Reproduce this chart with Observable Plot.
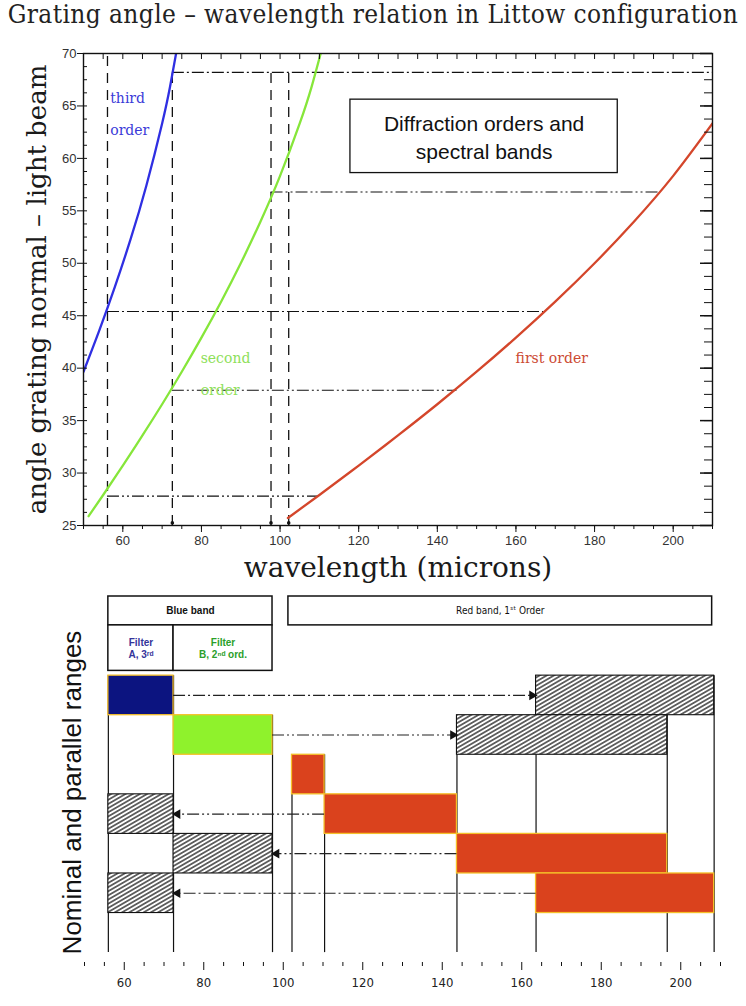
<!DOCTYPE html>
<html><head><meta charset="utf-8">
<script src="https://cdn.jsdelivr.net/npm/d3@7"></script>
<script src="https://cdn.jsdelivr.net/npm/@observablehq/plot@0.6"></script>
<style>
html,body{margin:0;padding:0;background:#fff}
body{width:746px;height:1006px;position:relative;overflow:hidden}
#title{position:absolute;left:0;top:0;width:746px;text-align:center;font-family:"DejaVu Serif Condensed","DejaVu Serif",serif;font-size:26px;letter-spacing:0.4px;color:#222;line-height:28px;white-space:nowrap}
#top{position:absolute;left:0;top:30px}
#bottom{position:absolute;left:0;top:590px}
</style></head><body>
<div id="title">Grating angle – wavelength relation in Littow configuration</div>
<div id="top"></div>
<div id="bottom"></div>
<script>
// ---------------- top chart data ----------------
const wavelengthTicks = [60, 80, 100, 120, 140, 160, 180, 200];
const angleTicks = [25, 30, 35, 40, 45, 50, 55, 60, 65, 70];

const thirdWl  = [50, 54, 58, 62, 66, 70, 72, 73.6];
const thirdAng = [39.66, 43.58, 47.77, 52.32, 57.42, 63.33, 66.80, 70.1];
const secondWl  = [51.3, 55, 60, 65, 70, 75, 80, 85, 90, 95, 100, 105, 108, 110.4];
const secondAng = [25.89, 27.91, 30.71, 33.59, 36.56, 39.66, 42.91, 46.34, 50.0, 53.96, 58.33, 63.33, 66.8, 70.1];
const firstWl  = [102, 110, 120, 130, 140, 150, 160, 170, 180, 190, 200, 210];
const firstAng = [25.72, 27.91, 30.71, 33.59, 36.56, 39.66, 42.91, 46.34, 50.0, 53.96, 58.33, 63.33];

const cutoffWl = [56.1, 72.6, 97.7, 102.2];
const cutoffTopAngle = [70, 68.6, 68.6, 68.6];
const footMarkWl = [72.6, 97.7, 102.2];

const projAngle = [68.2, 56.8, 45.4, 37.9, 27.8];
const projFromWl = [72.6, 97.7, 56.1, 72.6, 56.1];
const projToWl = [210, 196.3, 167, 145, 109.8];
const projStyle = ["dashdot", "dashdotdot", "dashdot", "dashdotdot", "dashdotdot"];

const orderLabelText = ["third", "order", "second", "order", "first order"];
const orderLabelWl = [56.8, 56.8, 79.8, 79.8, 159.9];
const orderLabelAngle = [65.7, 62.7, 40.9, 37.85, 40.9];
const orderLabelOrder = ["third", "third", "second", "second", "first"];

const noteText = "Diffraction orders and\nspectral bands";
const noteBoxWl = [117.9, 185.9];
const noteBoxAngle = [58.6, 65.6];

// ---------------- bottom chart data ----------------
const edgeWl = [56, 72.4, 97.3, 102.2, 110.4, 143.7, 163.6, 196.6, 208.4];
const edgeStartRow = [0, 0, 1, 2, 2, 1, 0, 1, 0];

const nominalFrom = [56, 72.4, 102.2, 110.4, 143.7, 163.6];
const nominalTo   = [72.4, 97.3, 110.4, 143.7, 196.6, 208.4];
const nominalRow  = [0, 1, 2, 3, 4, 5];
const nominalOrder = ["third", "second", "first", "first", "first", "first"];

const parallelFrom = [163.6, 143.7, 56, 72.4, 56];
const parallelTo   = [208.4, 196.6, 72.4, 97.3, 72.4];
const parallelRow  = [0, 1, 3, 4, 5];
const parallelStyle = ["dashdot", "dashdotdot", "dashdotdot", "dashdotdot", "dashdot"];

const bandLabels = ["Blue band", "Red band, 1ˢᵗ Order"];
const bandFrom = [56, 101.3];
const bandTo = [97.3, 207.9];
const filterLabels = ["Filter\nA, 3ʳᵈ", "Filter\nB, 2ⁿᵈ ord."];
const filterFrom = [56, 72.4];
const filterTo = [72.4, 97.3];
const filterOrder = ["third", "second"];

// ---------------- styles ----------------
const lineColor = {third: "#2f2fe2", second: "#86e63a", first: "#d4462b"};
const labelColor = {third: "#3a3ad8", second: "#8ee05a", first: "#cc4a32"};
const fillColor = {third: "#0c1480", second: "#8ff22c", first: "#da421d"};
const filterTextColor = {third: "#34349a", second: "#2aa02a"};
const dashes = {dashdot: "12,3,2,3", dashdotdot: "12,3,2,3,2,3"};

const zip = (xs, ys) => xs.map((x, i) => ({wl: x, ang: ys[i]}));
const curves = [
  {order: "third", pts: zip(thirdWl, thirdAng)},
  {order: "second", pts: zip(secondWl, secondAng)},
  {order: "first", pts: zip(firstWl, firstAng)}
];
const cutoffs = cutoffWl.map((w, i) => ({wl: w, top: cutoffTopAngle[i]}));
const projections = projAngle.map((a, i) => ({ang: a, from: projFromWl[i], to: projToWl[i], style: projStyle[i]}));
const orderLabels = orderLabelText.map((t, i) => ({text: t, wl: orderLabelWl[i], ang: orderLabelAngle[i], order: orderLabelOrder[i]}));

const serif = "'DejaVu Serif', serif";
const sans = "'Liberation Sans', Arial, sans-serif";
const FW = 746 - 83 - 34, FH = 560 - 23 - 65;
const minorWl = d3.range(50, 210.01, 5);

const topPlot = Plot.plot({
  width: 746, height: 560,
  marginTop: 23, marginBottom: 65, marginLeft: 83, marginRight: 34,
  x: {domain: [50, 210], label: null},
  y: {domain: [25, 70], label: null},
  style: {fontFamily: sans, fontSize: "13px", color: "#222", background: "white"},
  marks: [
    Plot.ruleX(cutoffs, {x: "wl", y1: 25, y2: "top", stroke: "#111", strokeWidth: 1.3, strokeDasharray: "10,7"}),
    ...["dashdot", "dashdotdot"].map(s => Plot.ruleY(projections.filter(p => p.style === s), {y: "ang", x1: "from", x2: "to", stroke: "#111", strokeWidth: 1.1, strokeDasharray: dashes[s]})),
    ...curves.map(c => Plot.line(c.pts, {x: "wl", y: "ang", stroke: lineColor[c.order], strokeWidth: 2.3, curve: "natural", clip: true})),
    Plot.dot(footMarkWl, {x: d => d, y: 25.25, r: 1.8, fill: "#111"}),
    ...["third", "second", "first"].map(o => Plot.text(orderLabels.filter(d => d.order === o), {x: "wl", y: "ang", text: "text", textAnchor: "start", fill: labelColor[o], fontFamily: "'DejaVu Serif', serif", fontSize: 14})),
    Plot.rect([0], {x1: noteBoxWl[0], x2: noteBoxWl[1], y1: noteBoxAngle[0], y2: noteBoxAngle[1], fill: "white", stroke: "#111", strokeWidth: 1.3}),
    Plot.text([noteText], {text: d => d, x: (noteBoxWl[0] + noteBoxWl[1]) / 2, y: (noteBoxAngle[0] + noteBoxAngle[1]) / 2, fontFamily: sans, fontSize: 21, lineHeight: 1.32, fill: "#111"}),
    Plot.frame({stroke: "#111", strokeWidth: 1.4}),
    Plot.tickY(d3.range(25, 70.01, 1.25), {y: d => d, insetRight: FW - 4, stroke: "#111"}),
    Plot.tickY(d3.range(25, 70.01, 1.25), {y: d => d, insetLeft: FW - 8, stroke: "#111"}),
    Plot.tickY(angleTicks, {y: d => d, insetLeft: FW - 12, stroke: "#111", strokeWidth: 1.5}),
    Plot.tickX(minorWl, {x: d => d, insetBottom: FH - 6, stroke: "#111"}),
    Plot.tickX(minorWl, {x: d => d, insetTop: FH - 4, dy: 4, stroke: "#111"}),
    Plot.axisX(wavelengthTicks, {tickSize: 7, tickPadding: 3, fontSize: 13, fill: "#333", stroke: "#111"}),
    Plot.axisY(angleTicks, {tickSize: 6, tickPadding: 1, fontSize: 13, fill: "#333", stroke: "#111"}),
    Plot.text(["wavelength (microns)"], {text: d => d, frameAnchor: "bottom", dy: 51, textAnchor: "middle", fontFamily: serif, fontSize: 28, fill: "#1a1a1a"}),
    Plot.text(["angle grating normal – light beam"], {text: d => d, frameAnchor: "left", textAnchor: "middle", rotate: -90, dx: -46, fontFamily: serif, fontSize: 26, fill: "#1a1a1a"})
  ]
});
document.getElementById("top").appendChild(topPlot);

// ---------------- bottom chart ----------------
const edges = edgeWl.map((w, i) => ({wl: w, start: edgeStartRow[i]}));
const nominal = nominalFrom.map((f, i) => ({from: f, to: nominalTo[i], row: nominalRow[i], fill: fillColor[nominalOrder[i]]}));
const parallel = parallelFrom.map((f, i) => ({from: f, to: parallelTo[i], row: parallelRow[i]}));
const arrows = parallel.map((p, i) => {
  const n = nominal.find(d => d.row === p.row);
  const right = p.from >= n.to;
  return {row: p.row, from: right ? n.to : n.from, to: right ? p.from : p.to, right, style: parallelStyle[i]};
});
const bands = bandLabels.map((t, i) => ({text: t, from: bandFrom[i], to: bandTo[i]}));
const filters = filterLabels.map((t, i) => ({text: t, from: filterFrom[i], to: filterTo[i], color: filterTextColor[filterOrder[i]]}));
const BH = 416 - 6 - 44;

const bottomPlot = Plot.plot({
  width: 746, height: 416,
  marginTop: 6, marginBottom: 44, marginLeft: 84, marginRight: 26,
  x: {domain: [50, 210], label: null},
  y: {domain: [-2, 7.25], reverse: true, axis: null, label: null},
  color: {type: "identity"},
  style: {fontFamily: sans, fontSize: "13px", color: "#222", background: "white"},
  marks: [
    Plot.ruleX(edges, {x: "wl", y1: "start", y2: 7, stroke: "#111", strokeWidth: 1.2}),
    Plot.rect(bands, {x1: "from", x2: "to", y1: -2, y2: -1.27, fill: "white", stroke: "#111", strokeWidth: 1.5}),
    Plot.rect(filters, {x1: "from", x2: "to", y1: -1.27, y2: -0.12, fill: "white", stroke: "#111", strokeWidth: 1.5}),
    Plot.text(bands.slice(0, 1), {x: d => (d.from + d.to) / 2, y: -1.635, text: "text", fontWeight: "bold", fontSize: 10, fill: "#111"}),
    Plot.text(bands.slice(1), {x: d => (d.from + d.to) / 2, y: -1.635, text: "text", fontSize: 10, fill: "#111", fontFamily: "'Liberation Sans Narrow', 'DejaVu Sans Condensed', sans-serif", letterSpacing: "-0.3px"}),
    Plot.text(filters, {x: d => (d.from + d.to) / 2, y: -0.695, text: "text", fontWeight: "bold", fontSize: 10, lineHeight: 1.25, fill: "color"}),
    Plot.rect(parallel, {x1: "from", x2: "to", y1: "row", y2: d => d.row + 1, fill: "url(#hatch)", stroke: "#111", strokeWidth: 1.1}),
    Plot.rect(nominal, {x1: "from", x2: "to", y1: "row", y2: d => d.row + 1, fill: "fill", stroke: "#f5c02a", strokeWidth: 1.3}),
    ...["dashdot", "dashdotdot"].map(s => Plot.ruleY(arrows.filter(a => a.style === s), {y: d => d.row + 0.5, x1: "from", x2: "to", stroke: "#222", strokeWidth: 1.2, strokeDasharray: dashes[s]})),
    Plot.dot(arrows.filter(a => a.right), {x: "to", y: d => d.row + 0.5, symbol: "triangle", rotate: 90, r: 3.6, fill: "#111", dx: -4}),
    Plot.dot(arrows.filter(a => !a.right), {x: "to", y: d => d.row + 0.5, symbol: "triangle", rotate: -90, r: 3.6, fill: "#111", dx: 4}),
    Plot.tickX(minorWl.filter(v => v % 20 !== 0), {x: d => d, insetTop: BH - 4, dy: 4, stroke: "#111"}),
    Plot.axisX(wavelengthTicks, {tickSize: 8, tickPadding: 7, fontSize: 13, fill: "#222", stroke: "#111", fontFamily: "'DejaVu Sans Condensed', 'Liberation Sans', sans-serif"}),
    Plot.text(["Nominal and parallel ranges"], {text: d => d, frameAnchor: "left", textAnchor: "middle", rotate: -90, dx: -12, dy: 13, fontFamily: sans, fontSize: 26, fill: "#111"})
  ]
});
const defs = d3.select(bottomPlot).insert("defs", ":first-child");
const pat = defs.append("pattern").attr("id", "hatch").attr("patternUnits", "userSpaceOnUse")
  .attr("width", 12).attr("height", 3.6).attr("patternTransform", "rotate(-30)");
pat.append("rect").attr("width", 12).attr("height", 3.6).attr("fill", "white");
pat.append("line").attr("x1", 0).attr("x2", 12).attr("y1", 1.8).attr("y2", 1.8).attr("stroke", "#000").attr("stroke-width", 1.15);
document.getElementById("bottom").appendChild(bottomPlot);
</script>
</body></html>
